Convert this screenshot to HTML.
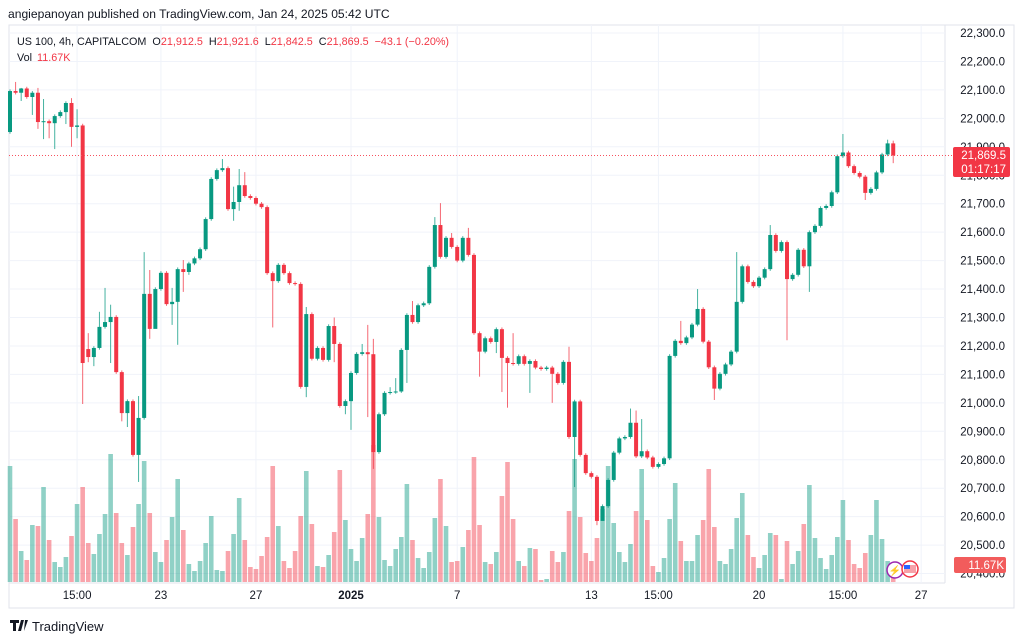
<!DOCTYPE html>
<html><head><meta charset="utf-8"><style>
body{margin:0;background:#fff;width:1024px;height:641px;overflow:hidden;font-family:"Liberation Sans",sans-serif}
svg{display:block}
text{font-family:"Liberation Sans",sans-serif}
</style></head><body>
<svg id="chart" width="1024" height="641" xmlns="http://www.w3.org/2000/svg">
<text x="8" y="18" font-size="12.1" fill="#131722">angiepanoyan published on TradingView.com, Jan 24, 2025 05:42 UTC</text>
<rect x="9" y="25" width="1005" height="583" fill="none" stroke="#e0e3eb"/>
<line x1="945" y1="25" x2="945" y2="583" stroke="#e0e3eb"/>
<line x1="9" y1="583" x2="945" y2="583" stroke="#e0e3eb"/>
<g id="grid"></g>
<g id="vols"></g>
<g id="candles"></g>
<g id="yaxis"></g>
<g id="xaxis"></g>
<text x="17" y="45" font-size="10.8" fill="#131722">US 100, 4h, CAPITALCOM<tspan dx="6">O</tspan><tspan fill="#f23645">21,912.5</tspan><tspan dx="6">H</tspan><tspan fill="#f23645">21,921.6</tspan><tspan dx="6">L</tspan><tspan fill="#f23645">21,842.5</tspan><tspan dx="6">C</tspan><tspan fill="#f23645">21,869.5</tspan><tspan dx="6" fill="#f23645">−43.1 (−0.20%)</tspan></text>
<text x="17" y="61" font-size="10.8" fill="#131722">Vol<tspan dx="5" fill="#f23645">11.67K</tspan></text>
<g>
<rect x="953" y="147" width="57" height="30" rx="2" fill="#f23645"/>
<text x="1006" y="159" font-size="11.5" fill="#fff" text-anchor="end">21,869.5</text>
<text x="1006" y="173" font-size="11.5" fill="#fff" text-anchor="end">01:17:17</text>
</g>
<g>
<rect x="954" y="557" width="52" height="16" rx="2" fill="#f25c5c"/>
<text x="1004" y="569" font-size="11.5" fill="#fff" text-anchor="end">11.67K</text>
</g>
<g>
<circle cx="895" cy="570" r="8" fill="#fff" stroke="#9c27b0" stroke-width="1.5"/>
<text x="895" y="574" font-size="10" fill="#9c27b0" text-anchor="middle">⚡</text>
<circle cx="910" cy="569" r="8" fill="#fff" stroke="#f23645" stroke-width="1.5"/>
<rect x="904" y="565" width="12" height="8" fill="#f7a1a8"/><rect x="904" y="565" width="6" height="4" fill="#2962ff"/>
</g>
<g>
<path d="M10 620h9v3h-3v8h-3v-8h-3z M21 620h3l-3 11h-3z M25 620h3l-4 11z" fill="#131722"/>
<text x="32" y="631" font-size="13" fill="#131722">TradingView</text>
</g>
</svg>
<script>
const closes=[22096,22090,22105,22075,22090,21987,21990,21983,22008,22022,22054,21970,21975,21140,21161,21193,21267,21284,21302,21108,20964,21006,20817,20947,21383,21260,21400,21457,21347,21355,21470,21460,21490,21508,21540,21646,21787,21818,21825,21681,21706,21765,21727,21720,21700,21688,21456,21428,21485,21456,21421,21418,21056,21312,21155,21193,21151,21270,21207,20989,21006,21105,21172,21178,21171,20827,20960,21035,21038,21040,21186,21309,21284,21343,21350,21478,21625,21513,21580,21548,21500,21580,21520,21245,21180,21227,21214,21259,21158,21140,21137,21164,21137,21147,21124,21119,21124,21102,21070,21144,20880,21005,20817,20753,20740,20585,20637,20729,20825,20875,20880,20930,20812,20830,20808,20775,20785,20805,21165,21218,21210,21230,21275,21330,21215,21125,21050,21102,21135,21180,21355,21480,21425,21410,21440,21470,21590,21534,21565,21435,21450,21538,21480,21600,21622,21685,21692,21740,21867,21880,21832,21808,21795,21738,21752,21810,21873,21912,21869.5];
const firstOpen=21952;
const openOverrides={14:21189};
const highs={1:22128,2:22107,5:22107,6:22068,11:22071,12:22032,14:21245,16:21320,17:21404,18:21345,23:21024,24:21530,25:21467,29:21404,31:21502,38:21857,40:21760,41:21822,42:21811,53:21337,58:21300,63:21207,64:21274,65:21225,68:21055,69:21087,72:21358,76:21653,77:21702,79:21597,82:21615,90:21245,100:21197,111:20980,112:20973,113:20943,120:21288,123:21400,130:21530,136:21625,149:21945,157:21925,158:21921.6};
const lows={2:22061,4:22012,5:21963,6:21927,7:21930,8:21892,10:21980,11:21900,12:21930,13:20996,14:21143,15:21129,18:21140,20:20935,21:20915,23:20722,25:21225,26:21365,29:21274,30:21204,31:21390,32:21450,40:21640,41:21675,47:21265,53:21020,58:21143,60:20960,61:20905,64:20950,65:20768,70:21035,71:21070,84:21092,87:21175,88:21038,89:20983,93:21035,97:21000,101:20704,105:20570,106:20600,126:21010,139:21220,143:21390,153:21713,158:21842.5};
const volumes=[116,63,31,22,57,56,95,42,20,15,25,46,78,95,39,28,48,68,128,69,39,27,55,78,121,69,30,20,42,65,103,52,18,11,21,39,66,12,11,31,48,84,42,15,13,26,45,116,56,21,14,31,66,111,58,16,15,27,50,112,62,33,21,44,68,137,65,22,16,33,45,98,42,24,14,30,64,103,56,20,21,35,52,125,57,20,18,30,86,120,63,21,16,34,33,2,3,31,20,30,71,123,65,29,21,44,73,116,59,30,20,38,71,113,62,16,10,24,63,99,41,21,21,47,62,113,55,21,18,33,64,89,47,25,14,27,49,47,3,41,18,31,58,97,44,24,13,27,45,82,42,18,14,29,47,82,43,21,14];
const priceTicks=[22300,22200,22100,22000,21900,21800,21700,21600,21500,21400,21300,21200,21100,21000,20900,20800,20700,20600,20500,20400];
const timeLabels=["15:00","23","27","2025","7","13","15:00","20","15:00","27"];
const timeLabelIndex=[12,27,44,61,80,104,116,134,149,163];

const NS="http://www.w3.org/2000/svg";
const G="#089981",R="#f23645";
function yP(p){return 33+(22300-p)*0.2845;}
function xI(i){return 10+i*5.59;}
function yV(v){return 582-v;}
function mk(tag,attrs,parent){const e=document.createElementNS(NS,tag);for(const k in attrs)e.setAttribute(k,attrs[k]);parent.appendChild(e);return e;}
const grid=document.getElementById('grid'),ya=document.getElementById('yaxis'),xa=document.getElementById('xaxis');
priceTicks.forEach(p=>{
  const l=mk('line',{x1:9,x2:945,y1:yP(p),y2:yP(p),stroke:'#f0f3fa'},grid);
  
  
  const t=mk('text',{x:1005,y:yP(p)+4,'font-size':11.5,fill:'#131722','text-anchor':'end'},ya);
  t.textContent=p.toLocaleString('en-US')+'.0';
  
  
});
timeLabels.forEach((s,k)=>{
  const x=xI(timeLabelIndex[k]);
  const l=mk('line',{x1:x,x2:x,y1:25,y2:583,stroke:'#f0f3fa'},grid);
  
  
  const t=mk('text',{x:x,y:599,'font-size':11.5,fill:'#131722','text-anchor':'middle','font-weight':s==='2025'?'bold':'normal'},xa);
  t.textContent=s;
  
  
});
const cg=document.getElementById('candles'),vg=document.getElementById('vols');
closes.forEach((c,i)=>{
  const o=(i in openOverrides)?openOverrides[i]:(i===0?firstOpen:closes[i-1]);
  const up=c>=o,col=up?G:R;
  const h=(i in highs)?highs[i]:Math.max(o,c)+6;
  const lo=(i in lows)?lows[i]:Math.min(o,c)-6;
  const x=xI(i);
  const w=mk('line',{x1:x,x2:x,y1:yP(h),y2:yP(lo),stroke:col,'stroke-width':1,opacity:0.75},cg);
  
  
  const top=yP(Math.max(o,c)),bh=Math.max(1,yP(Math.min(o,c))-top);
  const b=mk('rect',{x:x-2,y:top,width:4,height:bh,fill:col},cg);
  
  
  const v=volumes[i];
  const vb=mk('rect',{x:x-2.3,y:yV(v),width:4.6,height:v,fill:up?'rgba(8,153,129,0.45)':'rgba(242,54,69,0.45)'},vg);
  
  
});
const pl=mk('line',{x1:9,x2:953,y1:yP(21869.5),y2:yP(21869.5),stroke:'#f7525f','stroke-dasharray':'1 2','stroke-width':1},cg);


</script>
</body></html>
